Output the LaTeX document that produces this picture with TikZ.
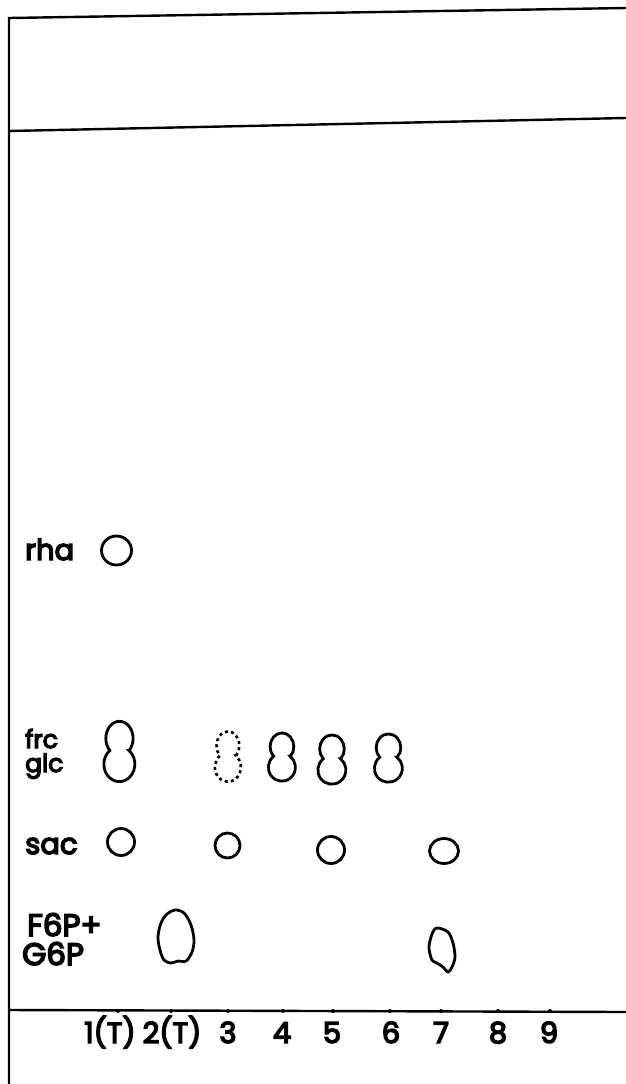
\documentclass[tikz,border=0pt]{standalone}
\usepackage{fontspec}
\setmainfont{Poppins}
\newfontfamily\platefont{Poppins}[FakeBold=5]
% one peanut-shaped double spot: [style] x, y, half width, half height
\newcommand\peanut[5][spot]{%
  \draw[#1] ({#2+0.62*#4},{#3-0.05*#5})
    arc[start angle=45, end angle=-225, x radius={0.88*#4}, y radius={0.57*#5}]
    arc[start angle=232, end angle=-52, x radius={#4}, y radius={0.58*#5}] -- cycle;}
\begin{document}
\begin{tikzpicture}[x=1pt, y=-1pt,
  plate/.style={line width=2.4pt},
  spot/.style={line width=2.8pt},
  faint/.style={line width=2.6pt, dash pattern=on 3pt off 3.2pt},
  sugar/.style={font=\platefont\fontsize{29}{29}\selectfont, anchor=base west, inner sep=0pt},
  lane/.style={font=\platefont\fontsize{29}{29}\selectfont, anchor=base, inner sep=0pt}]
\useasboundingbox (0,0) rectangle (626,1084);
% plate frame, solvent front and origin
\coordinate (topL) at (9,18);
\coordinate (topR) at (626,8);
\coordinate (frontL) at (9,131);
\coordinate (frontR) at (626,118);
\coordinate (originL) at (9,1010);
\coordinate (originR) at (626,1012);
\coordinate (bottomL) at (9,1084);
\draw[plate] (topR) -- (topL) -- (bottomL);
\draw[plate] (frontL) -- (frontR);
\draw[plate] (originL) -- (originR);
\foreach \x in {118,171,228,283,333,390,441,498,550}
  \fill (\x,1011) circle (2);
% lane numbers
\foreach \x/\t [count=\i] in {110/1(T),172/2(T),228/3,282/4,332/5,391/6,441/7,498/8,549/9}
  \node[lane] (lane\i) at (\x,1043) {\t};
% sugar names
\node[sugar] (rha) at (25,560) {rha};
\node[sugar, font=\platefont\fontsize{25}{25}\selectfont] (frc) at (25,748) {frc};
\node[sugar, font=\platefont\fontsize{25}{25}\selectfont] (glc) at (25,772) {glc};
\node[sugar] (sac) at (25,854) {sac};
\node[sugar, font=\platefont\fontsize{31}{31}\selectfont] (f6p) at (27,936) {F6P+};
\node[sugar, font=\platefont\fontsize{31}{31}\selectfont] (g6p) at (22,965) {G6P};
% rhamnose
\draw[spot] (116.5,550.5) circle[x radius=15, y radius=14.5];
% fructose + glucose
\peanut{119.5}{752}{15.5}{30}
\peanut[faint]{228}{757}{13}{25}
\peanut{282}{757.5}{13.5}{24}
\peanut{332}{760}{14}{24.5}
\peanut{388.5}{758.5}{14}{24}
% saccharose
\draw[spot] (121,842) circle[radius=13.5];
\draw[spot] (227.5,845.5) circle[radius=12.5];
\draw[spot] (331,850) circle[radius=13.5];
\draw[spot] (444,851) circle[x radius=14.5, y radius=12.5];
% hexose phosphates
\draw[spot] plot[smooth cycle, tension=0.55] coordinates {
  (175,910) (184,913) (191,925) (194,940) (192,952) (186,961) (178,961)
  (171,963) (164,960) (160,950) (158,937) (161,923) (167,914)};
\draw[spot] plot[smooth cycle, tension=0.55] coordinates {
  (438,928) (448,932) (453,943) (455,957) (452,967) (448,972) (443,967)
  (437,963) (432,960) (429,948) (431,937) (434,930)};
\end{tikzpicture}
\end{document}
